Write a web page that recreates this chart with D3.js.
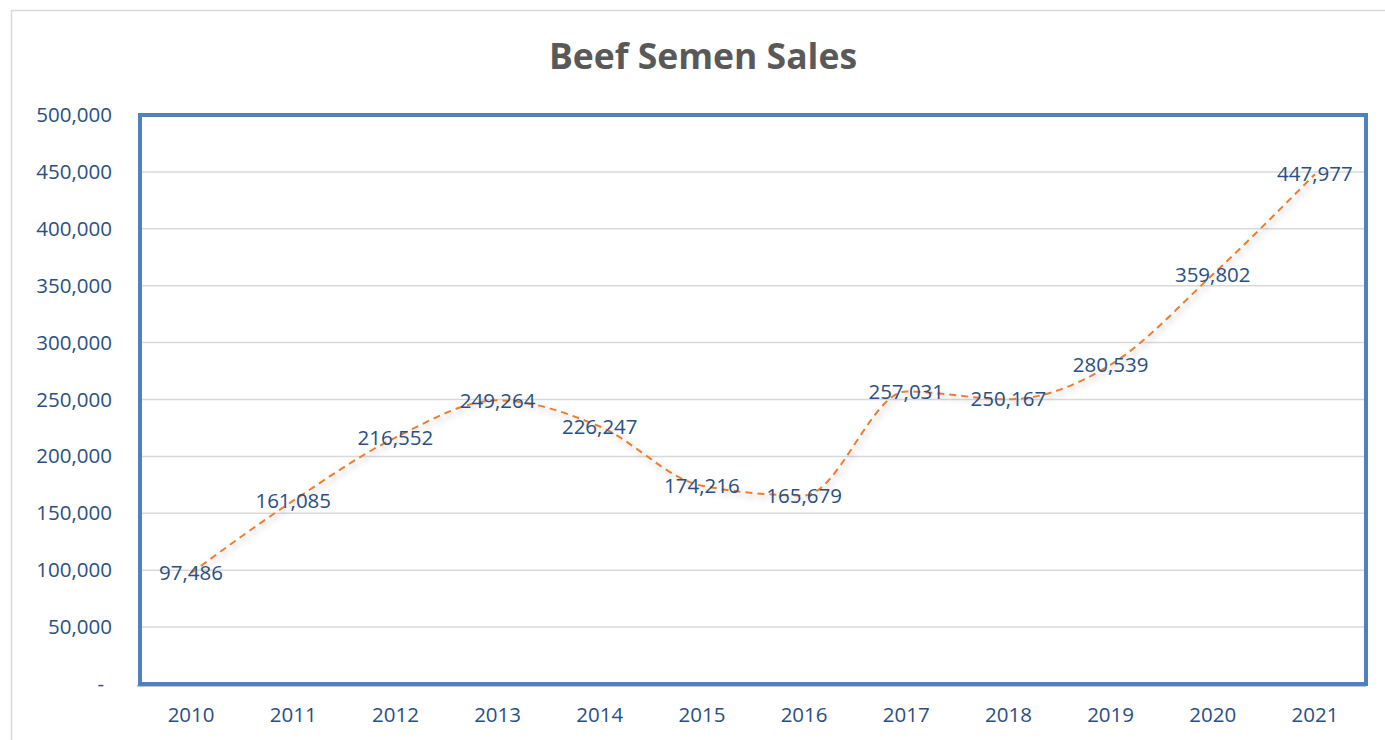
<!DOCTYPE html>
<html>
<head>
<meta charset="utf-8">
<script src="https://cdn.jsdelivr.net/npm/d3@7"></script>
<style>
  body { margin: 0; background: #fff; }
  svg text { font-family: "Open Sans", "Noto Sans", sans-serif; }
</style>
</head>
<body>
<svg id="chart" width="1385" height="740"></svg>
<script>
// data
const years = ["2010", "2011", "2012", "2013", "2014", "2015", "2016", "2017", "2018", "2019", "2020", "2021"];
const sales = [97486, 161085, 216552, 249264, 226247, 174216, 165679, 257031, 250167, 280539, 359802, 447977];
const yTicks = [0, 50000, 100000, 150000, 200000, 250000, 300000, 350000, 400000, 450000, 500000];

const svg = d3.select("#chart");
const margin = {left: 140, top: 115, right: 1366, bottom: 684};
const blue = "#2a4f82";
const fs = 20.5;

// outer chart frame
svg.append("rect")
  .attr("x", 11.5).attr("y", 10.5)
  .attr("width", 1400).attr("height", 760)
  .attr("fill", "#fff")
  .attr("stroke", "#d9d9d9")
  .attr("stroke-width", 1.5);

svg.append("text")
  .attr("x", 703).attr("y", 69)
  .attr("text-anchor", "middle")
  .attr("font-size", 35.5)
  .attr("font-weight", "bold")
  .attr("fill", "#595959")
  .text("Beef Semen Sales");

let x = d3.scaleBand()
  .domain(years)
  .range([margin.left, margin.right]);

let y = d3.scaleLinear()
  .domain([0, 500000])
  .range([margin.bottom, margin.top]);

// gridlines
svg.append("g")
  .selectAll("line")
  .data(yTicks.slice(1))
  .enter()
  .append("line")
  .attr("x1", margin.left).attr("x2", margin.right)
  .attr("y1", d => y(d)).attr("y2", d => y(d))
  .attr("stroke", "#d9d9d9")
  .attr("stroke-width", 1.5);

// y axis
let yAxis = d3.axisLeft(y)
  .tickValues(yTicks)
  .tickSize(0)
  .tickPadding(0)
  .tickFormat(d => d === 0 ? "-" : d3.format(",")(d));

let yg = svg.append("g")
  .attr("transform", `translate(${margin.left - 28},0)`)
  .call(yAxis);
yg.select(".domain").remove();
yg.selectAll("text")
  .attr("font-size", fs)
  .attr("fill", blue)
  .style("font-family", "'Open Sans', sans-serif");
yg.selectAll(".tick").filter(d => d === 0).select("text").attr("dx", -8);

// x axis
let xAxis = d3.axisBottom(x).tickSize(0).tickPadding(0);
let xg = svg.append("g")
  .attr("transform", `translate(0,${margin.bottom + 19})`)
  .call(xAxis);
xg.select(".domain").remove();
xg.selectAll("text")
  .attr("font-size", fs)
  .attr("fill", blue)
  .attr("dy", "0.95em")
  .style("font-family", "'Open Sans', sans-serif");

// bottom axis line
svg.append("line")
  .attr("x1", margin.left - 3).attr("x2", margin.right)
  .attr("y1", margin.bottom + 2).attr("y2", margin.bottom + 2)
  .attr("stroke", "#b8c8dc")
  .attr("stroke-width", 2);

// plot area border
svg.append("rect")
  .attr("x", margin.left).attr("y", margin.top)
  .attr("width", margin.right - margin.left)
  .attr("height", margin.bottom - margin.top)
  .attr("fill", "none")
  .attr("stroke", "#4f81bd")
  .attr("stroke-width", 4);

// shadow for the line
let defs = svg.append("defs");
let f = defs.append("filter").attr("id", "shadow")
  .attr("x", "-10%").attr("y", "-10%").attr("width", "120%").attr("height", "120%");
f.append("feDropShadow")
  .attr("dx", 2).attr("dy", 3)
  .attr("stdDeviation", 3)
  .attr("flood-color", "#000")
  .attr("flood-opacity", 0.3);

let line = d3.line()
  .x((d, i) => x(years[i]) + x.bandwidth() / 2)
  .y(d => y(d))
  .curve(d3.curveMonotoneX);

svg.append("path")
  .datum(sales)
  .attr("d", line)
  .attr("fill", "none")
  .attr("stroke", "#ed7d31")
  .attr("stroke-width", 2)
  .attr("stroke-dasharray", "7,5")
  .attr("filter", "url(#shadow)");

// data labels
svg.append("g")
  .selectAll("text")
  .data(sales)
  .enter()
  .append("text")
  .attr("x", (d, i) => x(years[i]) + x.bandwidth() / 2)
  .attr("y", d => y(d))
  .attr("dy", "0.35em")
  .attr("text-anchor", "middle")
  .attr("font-size", fs)
  .attr("fill", blue)
  .text(d => d3.format(",")(d));
</script>
</body>
</html>
